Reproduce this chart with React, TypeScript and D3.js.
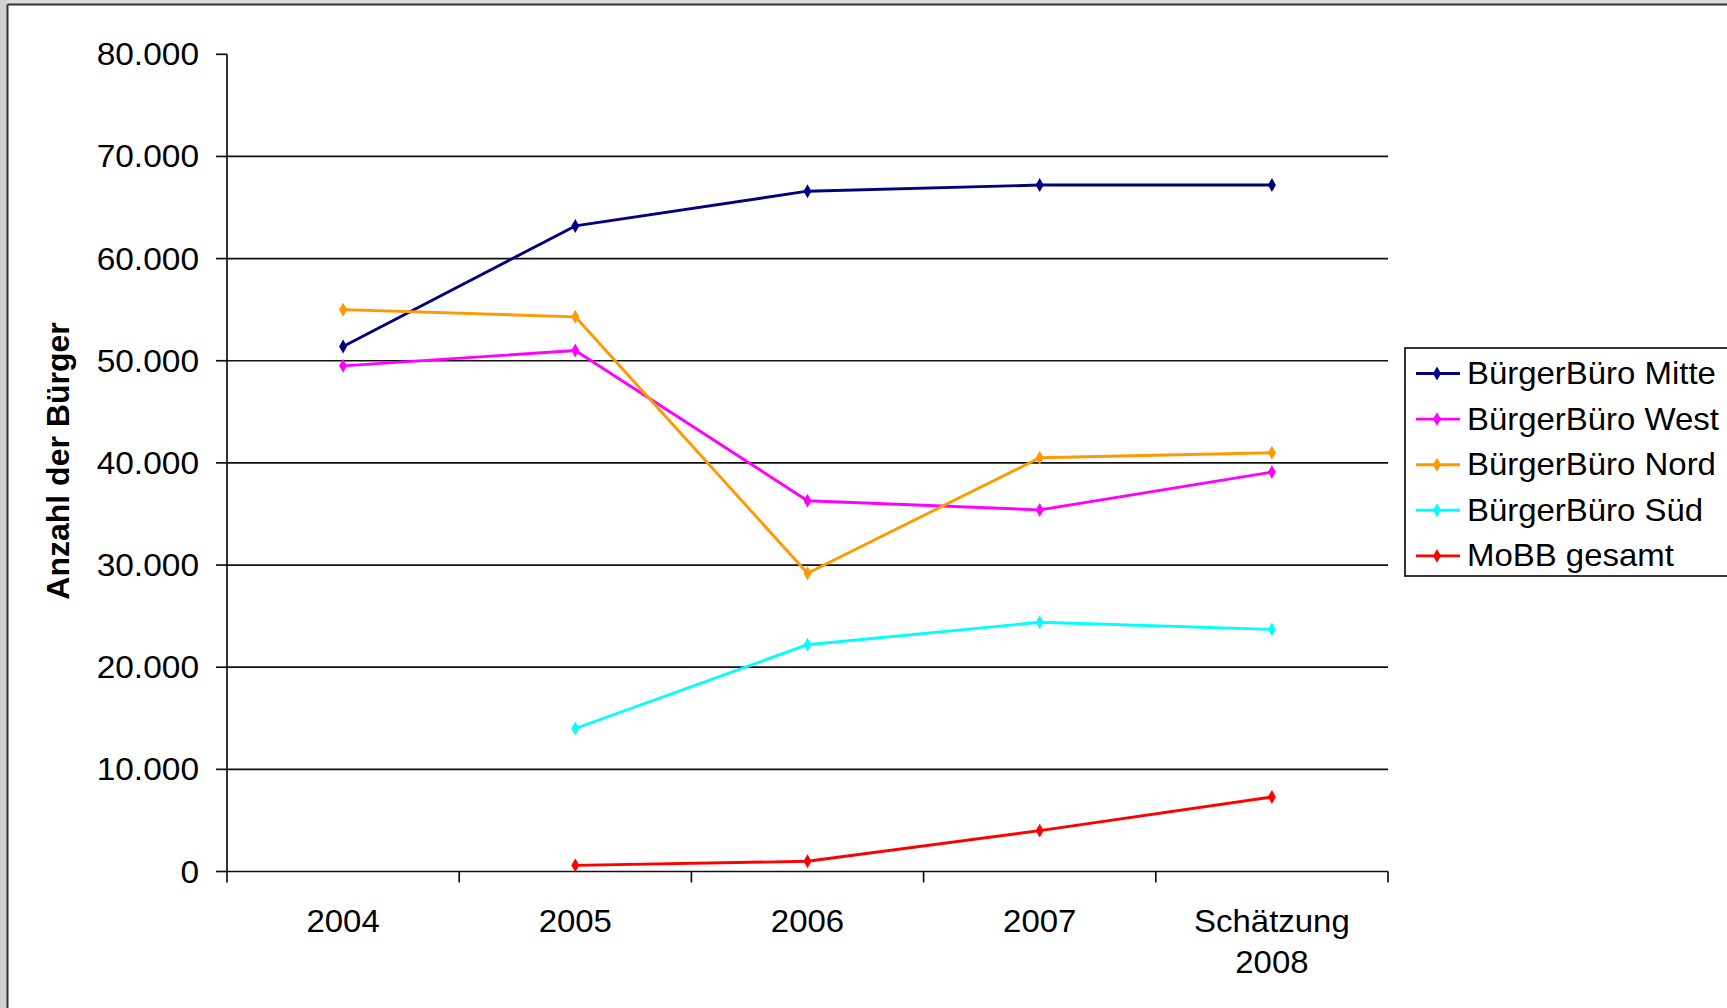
import React from 'react';
import * as d3 from 'd3';

// Besucherzahlen der Bürgerbüros
const categories = ['2004', '2005', '2006', '2007', 'Schätzung 2008'];
const mitte = [51400, 63200, 66600, 67200, 67200];
const west = [49500, 51000, 36300, 35400, 39100];
const nord = [55000, 54300, 29200, 40500, 41000];
const sued = [null, 14000, 22200, 24400, 23700];
const mobb = [null, 600, 1000, 4000, 7300];
const seriesNames = ['BürgerBüro Mitte', 'BürgerBüro West', 'BürgerBüro Nord', 'BürgerBüro Süd', 'MoBB gesamt'];
const seriesColors = ['#000080', '#ff00ff', '#ff9900', '#00ffff', '#ff0000'];
const yTicks = [0, 10000, 20000, 30000, 40000, 50000, 60000, 70000, 80000];
const yTitle = 'Anzahl der Bürger';

const allSeries = [mitte, west, nord, sued, mobb];

const de = d3.formatLocale({ decimal: ',', thousands: '.', grouping: [3], currency: ['', ' €'] });
const fmt = de.format(',');

const App = () => {
  const width = 1727;
  const height = 1008;
  const plot = { left: 227, right: 1388, top: 54.3, bottom: 871.5 };
  const sx = 1.08; // text in the picture is a little wide
  const font = '"Liberation Sans", Arial, sans-serif';

  const xScale = d3.scaleBand<string>().domain(categories).range([plot.left, plot.right]).padding(0);
  const yScale = d3.scaleLinear().domain([0, 80000]).range([plot.bottom, plot.top]);
  const cx = (c: string) => (xScale(c) as number) + xScale.bandwidth() / 2;

  const line = d3
    .line<number | null>()
    .defined(d => d !== null)
    .x((d, i) => cx(categories[i]))
    .y(d => yScale(d as number));

  const diamond = d3.symbol().type(d3.symbolDiamond).size(56)() as string;

  const boundaries = categories.map(c => xScale(c) as number).concat([plot.right]);

  const legend = { x: 1405, y: 348, w: 340, h: 228, row0: 373.5, step: 45.6 };

  return (
    <svg
      width={width}
      height={height}
      viewBox={`0 0 ${width} ${height}`}
      style={{ position: 'absolute', left: 0, top: 0, background: '#fff' }}
    >
      {/* spreadsheet edge */}
      <rect x={0} y={0} width={width} height={4} fill='#dcdcdc' />
      <rect x={0} y={0} width={7} height={height} fill='#d2d2d2' />
      <line x1={7.5} y1={4.5} x2={width} y2={4.5} stroke='#333' strokeWidth={2} />
      <line x1={7.5} y1={4.5} x2={7.5} y2={height} stroke='#333' strokeWidth={2} />

      {/* grid */}
      {yTicks.slice(1, -1).map(t => (
        <line key={`g-${t}`} x1={plot.left} x2={plot.right} y1={yScale(t)} y2={yScale(t)} stroke='#111' strokeWidth={1.7} />
      ))}

      {/* y axis */}
      <line x1={plot.left} x2={plot.left} y1={plot.top} y2={plot.bottom} stroke='#111' strokeWidth={1.7} />
      {yTicks.map(t => (
        <g key={`y-${t}`}>
          <line x1={plot.left - 11} x2={plot.left} y1={yScale(t)} y2={yScale(t)} stroke='#111' strokeWidth={1.7} />
          <text
            transform={`translate(${plot.left - 28},${yScale(t) + 11}) scale(${sx},1)`}
            textAnchor='end'
            fontFamily={font}
            fontSize={31}
            fill='#000'
          >
            {fmt(t)}
          </text>
        </g>
      ))}

      {/* x axis */}
      <line x1={plot.left} x2={plot.right} y1={plot.bottom} y2={plot.bottom} stroke='#111' strokeWidth={1.7} />
      {boundaries.map((b, i) => (
        <line key={`xt-${i}`} x1={b} x2={b} y1={plot.bottom} y2={plot.bottom + 11} stroke='#111' strokeWidth={1.7} />
      ))}
      {categories.map(c => (
        <text key={`xl-${c}`} fontFamily={font} fontSize={30.5} fill='#000' textAnchor='middle'
          transform={`translate(${cx(c)},${plot.bottom + 60}) scale(${sx},1)`}>
          {c.split(' ').map((part, j) => (
            <tspan key={j} x={0} dy={j === 0 ? 0 : 41.5}>{part}</tspan>
          ))}
        </text>
      ))}

      {/* axis title */}
      <text
        transform={`translate(69,461) rotate(-90)`}
        textAnchor='middle'
        fontFamily={font}
        fontWeight='bold'
        fontSize={32}
        fill='#000'
      >
        {yTitle}
      </text>

      {/* series */}
      {allSeries.map((s, k) => (
        <g key={`s-${k}`}>
          <path d={line(s) as string} fill='none' stroke={seriesColors[k]} strokeWidth={2.9} strokeLinejoin='round' />
          {s.map((v, i) =>
            v === null ? null : (
              <path key={i} d={diamond} transform={`translate(${cx(categories[i])},${yScale(v)})`} fill={seriesColors[k]} />
            )
          )}
        </g>
      ))}

      {/* legend */}
      <rect x={legend.x} y={legend.y} width={legend.w} height={legend.h} fill='#fff' stroke='#111' strokeWidth={1.7} />
      {seriesNames.map((name, k) => {
        const y = legend.row0 + k * legend.step;
        return (
          <g key={`l-${k}`}>
            <line x1={1416} x2={1460} y1={y} y2={y} stroke={seriesColors[k]} strokeWidth={2.9} />
            <path d={diamond} transform={`translate(1437,${y})`} fill={seriesColors[k]} />
            <text transform={`translate(1467,${y + 10.5}) scale(${sx},1)`} fontFamily={font} fontSize={30.5} fill='#000'>
              {name}
            </text>
          </g>
        );
      })}
    </svg>
  );
};

export default App;
